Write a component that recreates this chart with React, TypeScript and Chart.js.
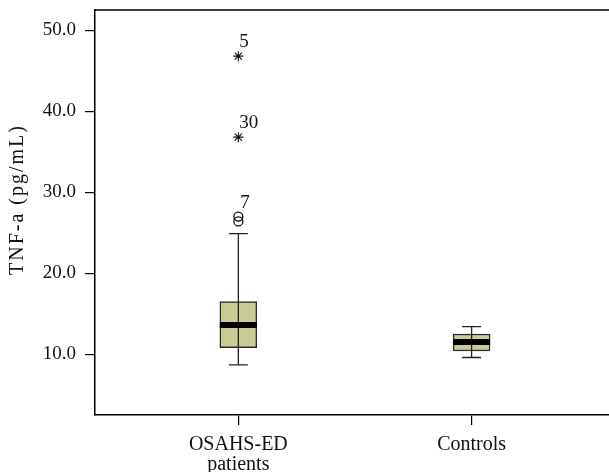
import React, { useEffect, useRef } from "react";
import { Chart, registerables } from "chart.js";

Chart.register(...registerables);

const categoryLabels: string[][] = [["OSAHS-ED", "patients"], ["Controls"]];
const categoryPos = [1, 2];
const q1 = [10.8, 10.4];
const q3 = [16.5, 12.5];
const medians = [13.6, 11.5];
const whiskerLow = [8.7, 9.6];
const whiskerHigh = [24.9, 13.4];

const mildOutliers = [27.0, 26.4];
const mildLabels = ["7", ""];
const extremeOutliers = [46.8, 36.8];
const extremeLabels = ["5", "30"];

const yTicks = [10, 20, 30, 40, 50];
const yTitle = "TNF-a (pg/mL)";

const FONT = "'Liberation Serif', 'Times New Roman', serif";

const boxPlugin = {
  id: "boxExtras",
  afterDatasetsDraw(chart: any) {
    const { ctx, scales, chartArea } = chart;
    const x = scales.x;
    const y = scales.y;
    ctx.save();
    // top frame line
    ctx.strokeStyle = "#000";
    ctx.lineWidth = 1.5;
    ctx.beginPath();
    ctx.moveTo(chartArea.left, chartArea.top);
    ctx.lineTo(chartArea.right, chartArea.top);
    ctx.stroke();
    categoryPos.forEach((c, i) => {
      const cx = x.getPixelForValue(c);
      const capHalf = 9.5;
      const boxHalf = 18.5;
      ctx.strokeStyle = "#222";
      ctx.lineWidth = 1.3;
      ctx.beginPath();
      ctx.moveTo(cx, y.getPixelForValue(whiskerLow[i]));
      ctx.lineTo(cx, y.getPixelForValue(whiskerHigh[i]));
      ctx.moveTo(cx - capHalf, y.getPixelForValue(whiskerLow[i]));
      ctx.lineTo(cx + capHalf, y.getPixelForValue(whiskerLow[i]));
      ctx.moveTo(cx - capHalf, y.getPixelForValue(whiskerHigh[i]));
      ctx.lineTo(cx + capHalf, y.getPixelForValue(whiskerHigh[i]));
      ctx.stroke();
      ctx.strokeStyle = "#000";
      ctx.lineWidth = 6;
      ctx.beginPath();
      const my = y.getPixelForValue(medians[i]);
      ctx.moveTo(cx - boxHalf, my);
      ctx.lineTo(cx + boxHalf, my);
      ctx.stroke();
    });
    // outlier labels
    ctx.fillStyle = "#111";
    ctx.font = "19px " + FONT;
    ctx.textAlign = "left";
    ctx.textBaseline = "alphabetic";
    const cx1 = x.getPixelForValue(categoryPos[0]);
    mildOutliers.forEach((v, i) => {
      if (mildLabels[i]) ctx.fillText(mildLabels[i], cx1 + 2, y.getPixelForValue(v) - 9);
    });
    extremeOutliers.forEach((v, i) => {
      if (extremeLabels[i]) ctx.fillText(extremeLabels[i], cx1 + 1, y.getPixelForValue(v) - 9);
    });
    // y title
    ctx.save();
    ctx.translate(18, (chartArea.top + chartArea.bottom) / 2 - 13);
    ctx.rotate(-Math.PI / 2);
    ctx.textAlign = "center";
    ctx.textBaseline = "middle";
    ctx.font = "20px " + FONT;
    (ctx as any).letterSpacing = "2px";
    ctx.fillText(yTitle, 0, 0);
    ctx.restore();
    ctx.restore();
  },
};

export default function App() {
  const ref = useRef<HTMLCanvasElement | null>(null);
  useEffect(() => {
    if (!ref.current) return;
    const chart = new Chart(ref.current, {
      type: "bar",
      data: {
        datasets: [
          {
            type: "bar",
            data: categoryPos.map((c, i) => ({ x: c, y: [q1[i], q3[i]] })) as any,
            backgroundColor: "#c8cc94",
            borderColor: "#2a2a2a",
            borderWidth: 1.5,
            borderSkipped: false,
            barThickness: 37,
          } as any,
          {
            type: "scatter",
            data: mildOutliers.map((v) => ({ x: categoryPos[0], y: v })),
            pointStyle: "circle",
            pointRadius: 4.5,
            borderColor: "#111",
            backgroundColor: "rgba(255,255,255,0)",
            borderWidth: 1.3,
          } as any,
          {
            type: "scatter",
            data: extremeOutliers.map((v) => ({ x: categoryPos[0], y: v })),
            pointStyle: "star",
            pointRadius: 5,
            borderColor: "#111",
            backgroundColor: "#111",
            borderWidth: 1.1,
          } as any,
        ],
      },
      options: {
        responsive: false,
        animation: false,
        devicePixelRatio: 1,
        layout: { padding: { top: 10, left: 0, right: 0, bottom: 0 } },
        plugins: { legend: { display: false }, tooltip: { enabled: false } },
        scales: {
          x: {
            type: "linear",
            offset: false,
            min: 0.3854,
            max: 2.593,
            afterFit: (s: any) => {
              s.height = 57;
              s.paddingLeft = 0;
              s.paddingRight = 0;
            },
            afterBuildTicks: (s: any) => {
              s.ticks = categoryPos.map((v) => ({ value: v }));
            },
            border: { display: true, color: "#000", width: 1.5 },
            grid: { display: true, offset: false, drawOnChartArea: false, drawTicks: true, tickLength: 10, color: "#000", lineWidth: 1.2 },
            ticks: {
              autoSkip: false,
              maxRotation: 0,
              padding: 10,
              color: "#111",
              font: { family: FONT, size: 20, lineHeight: 1.0 },
              callback: (v: any) => categoryLabels[Number(v) - 1] ?? "",
            },
          },
          y: {
            type: "linear",
            min: 2.5,
            max: 52.5,
            afterFit: (s: any) => {
              s.width = 95;
              s.paddingTop = 0;
              s.paddingBottom = 0;
            },
            afterBuildTicks: (s: any) => {
              s.ticks = yTicks.map((v) => ({ value: v }));
            },
            border: { display: true, color: "#000", width: 1.5 },
            grid: { display: true, drawOnChartArea: false, drawTicks: true, tickLength: 10, color: "#000", lineWidth: 1.2 },
            ticks: {
              padding: 9,
              color: "#111",
              font: { family: FONT, size: 19 },
              callback: (v: any) => Number(v).toFixed(1),
            },
          },
        },
      },
      plugins: [boxPlugin],
    });
    return () => chart.destroy();
  }, []);
  return (
    <div style={{ position: "fixed", left: 0, top: 0, width: 609, height: 472, overflow: "hidden", background: "#fff" }}>
      <canvas ref={ref} width={616} height={472} style={{ display: "block" }} />
    </div>
  );
}
